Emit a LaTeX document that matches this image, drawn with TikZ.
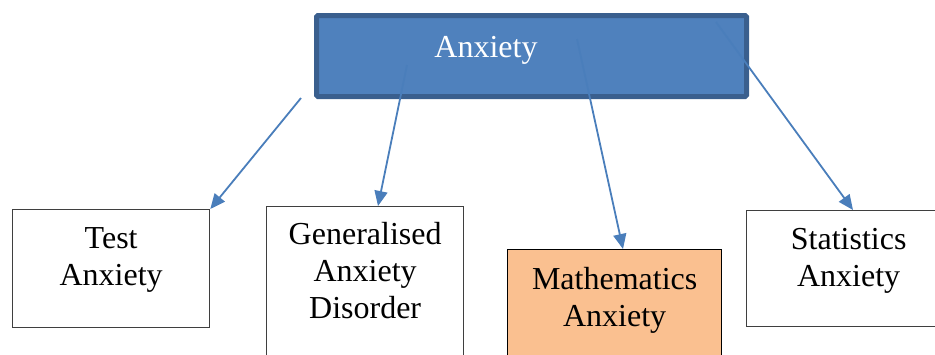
\documentclass[tikz,border=0pt]{standalone}
\usepackage{fontspec}
\setmainfont{Liberation Serif}
\usetikzlibrary{arrows.meta,calc}
\definecolor{topfill}{HTML}{4F81BD}
\definecolor{topedge}{HTML}{3A5F8E}
\definecolor{linkblue}{HTML}{4A7EBB}
\definecolor{mathfill}{HTML}{FAC090}
\definecolor{boxedge}{HTML}{3F3F3F}
\begin{document}
\begin{tikzpicture}[x=1pt,y=-1pt,
  leaf/.style={draw=boxedge,line width=1.3pt,fill=white,anchor=north west,inner sep=0pt},
  leaftext/.style={anchor=north,inner sep=0pt,align=center,
    font=\fontsize{32}{37}\selectfont},
  link/.style={draw=linkblue,line width=1.8pt,
    -{Triangle[length=15pt,width=13pt]}}]
\useasboundingbox (0,0) rectangle (935,354);

% top concept box
\draw[draw=topedge,fill=topfill,line width=5pt,rounded corners=1.5pt]
  (316.5,15.5) rectangle (746.5,96.5);
\node[anchor=base,inner sep=0pt,text=white,font=\fontsize{32}{37}\selectfont]
  (anx) at (486,57) {Anxiety};

% the four kinds of anxiety
\node[leaf,minimum width=197pt,minimum height=118pt] (test) at (12,209) {};
\node[leaf,minimum width=197pt,minimum height=160pt] (gen) at (266,206) {};
\node[leaf,fill=mathfill,draw=black,minimum width=214pt,minimum height=120pt] (math) at (507,249) {};
\node[leaf,minimum width=196pt,minimum height=116pt] (stat) at (746,210) {};

\node[leaftext] (testtxt) at ($(test.north)+(0,18)$) {Test\\Anxiety};
\node[leaftext] (gentxt) at ($(gen.north)+(0,16)$) {Generalised\\Anxiety\\Disorder};
\node[leaftext] (mathtxt) at ($(math.north)+(0,18)$) {Mathematics\\Anxiety};
\node[leaftext] (stattxt) at ($(stat.north)+(4,18)$) {Statistics\\Anxiety};

% connectors from the top box
\coordinate (s1) at (301,98);
\coordinate (s2) at (407,65);
\coordinate (s3) at (577,39);
\coordinate (s4) at (716,22);
\draw[link] (s1) -- (test.north east);
\draw[link] (s2) -- ($(gen.north west)+(112,0)$);
\draw[link] (s3) -- ($(math.north west)+(116,0)$);
\draw[link] (s4) -- ($(stat.north west)+(107,0)$);
\end{tikzpicture}
\end{document}
